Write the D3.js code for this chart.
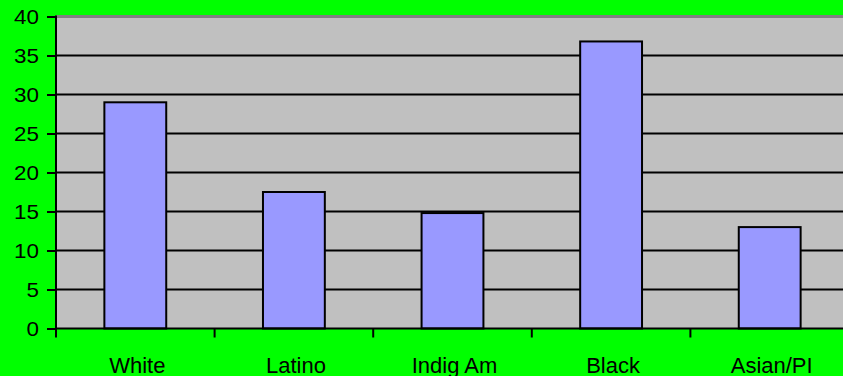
<!DOCTYPE html>
<html>
<head>
<meta charset="utf-8">
<script src="https://cdn.jsdelivr.net/npm/d3@7"></script>
<style>
	body { margin: 0; background: #00ff00; overflow: hidden; }
	text { font-family: "Liberation Sans", Arial, sans-serif; fill: #000; }
</style>
</head>
<body>
<script>
// * Data
const categories = ["White", "Latino", "Indig Am", "Black", "Asian/PI"];
const values = [29.0, 17.5, 14.8, 36.8, 13.0];
const yTicks = [0, 5, 10, 15, 20, 25, 30, 35, 40];

// * Size & Margins
let width = 843;
let height = 376;
const plotLeft = 56;
const plotRight = 849; // the plot runs off the right edge
const plotTop = 16.5;
const plotBottom = 328.5;

var svg = d3
	.select("body")
	.append("svg")
	.attr("width", width)
	.attr("height", height);

// * Scales
const x = d3.scaleBand().domain(categories).range([plotLeft, plotRight]).padding(0);
const y = d3.scaleLinear().domain([0, 40]).range([plotBottom, plotTop]);
const barFrac = 0.39;

// * Plot area
svg.append("rect")
	.attr("x", plotLeft)
	.attr("y", plotTop)
	.attr("width", plotRight - plotLeft)
	.attr("height", plotBottom - plotTop)
	.attr("fill", "#c0c0c0");

// top border
svg.append("line")
	.attr("x1", plotLeft)
	.attr("x2", plotRight)
	.attr("y1", plotTop)
	.attr("y2", plotTop)
	.attr("stroke", "#808080")
	.attr("stroke-width", 3);

// * Gridlines
svg.selectAll(".grid")
	.data(yTicks.filter((d) => d > 0 && d < 40))
	.join("line")
	.attr("class", "grid")
	.attr("x1", plotLeft)
	.attr("x2", plotRight)
	.attr("y1", (d) => y(d))
	.attr("y2", (d) => y(d))
	.attr("stroke", "#000")
	.attr("stroke-width", 2);

// * Bars
svg.selectAll(".bar")
	.data(values)
	.join("rect")
	.attr("class", "bar")
	.attr("x", (d, i) => x(categories[i]) + x.bandwidth() * (1 - barFrac) / 2)
	.attr("y", (d) => y(d))
	.attr("width", x.bandwidth() * barFrac)
	.attr("height", (d) => y(0) - y(d))
	.attr("fill", "#9999ff")
	.attr("stroke", "#000")
	.attr("stroke-width", 2);

// * Y axis
const yAxis = svg.append("g")
	.attr("transform", `translate(${plotLeft},0)`)
	.call(d3.axisLeft(y).tickValues(yTicks).tickSize(9).tickPadding(8));
yAxis.select(".domain").attr("stroke-width", 2).attr("d", `M0,${plotTop - 1}V${plotBottom + 1}`);
yAxis.selectAll(".tick line").attr("stroke-width", 2);
yAxis.selectAll(".tick text")
	.attr("font-size", "20px")
	.attr("font-family", "Liberation Sans, Arial, sans-serif")
	.attr("dy", "0.36em")
	.attr("transform", "scale(1.12,1)")
	.attr("x", -17 / 1.12)
	.style("fill", "#000");

// * X axis
const xAxis = svg.append("g").attr("transform", `translate(0,${plotBottom})`);
xAxis.append("line")
	.attr("x1", plotLeft - 1)
	.attr("x2", plotRight)
	.attr("stroke", "#000")
	.attr("stroke-width", 2);
const boundaries = categories.map((c) => x(c)).concat([plotRight]);
xAxis.selectAll(".xtick")
	.data(boundaries)
	.join("line")
	.attr("class", "xtick")
	.attr("x1", (d) => d)
	.attr("x2", (d) => d)
	.attr("y1", 0)
	.attr("y2", 9)
	.attr("stroke", "#000")
	.attr("stroke-width", 2);
xAxis.selectAll(".xlabel")
	.data(categories)
	.join("text")
	.attr("class", "xlabel")
	.attr("x", (d) => x(d) + x.bandwidth() / 2 + 2)
	.attr("y", 44.5)
	.attr("text-anchor", "middle")
	.attr("font-size", "22px")
	.text((d) => d);
</script>
</body>
</html>
